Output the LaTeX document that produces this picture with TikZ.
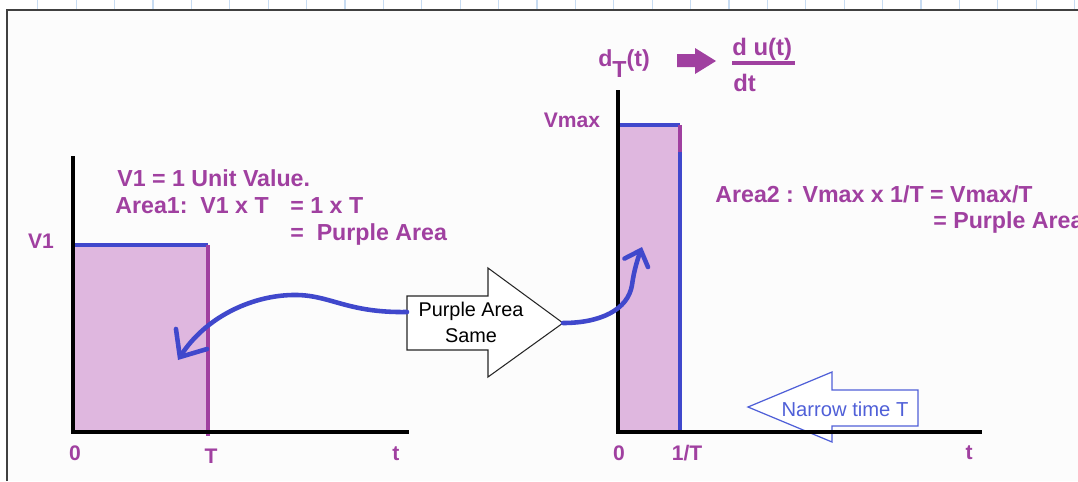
\documentclass[tikz,border=0pt]{standalone}
\usepackage{fontspec}
\setmainfont{Liberation Sans}
\usetikzlibrary{arrows.meta, positioning}
\definecolor{areapurple}{RGB}{160,64,160}
\definecolor{areafill}{RGB}{223,183,223}
\definecolor{handblue}{RGB}{64,72,204}
\definecolor{narrowblue}{RGB}{80,96,216}
\definecolor{rulerblue}{RGB}{200,220,242}

\begin{document}
\begin{tikzpicture}[
    x=0.02cm, y=-0.02cm,
    plbl/.style = {text=areapurple, font=\bfseries\fontsize{13.2}{15}\selectfont, inner sep=0pt, anchor=base west},
    axlbl/.style = {text=areapurple, font=\bfseries\fontsize{12}{14}\selectfont, inner sep=0pt, anchor=base},
    axisline/.style = {draw=black, line width=2.2pt},
    topedge/.style = {draw=handblue, line width=1.8pt},
    sideedge/.style = {draw=areapurple, line width=2.1pt},
    handarrow/.style = {draw=handblue, line width=2.6pt, line cap=round, line join=round},
    blockarrow/.style = {draw=black!85, line width=0.6pt, fill=white},
    narrowarrow/.style = {draw=narrowblue, line width=0.7pt, fill=white}
]

\useasboundingbox (0,0) rectangle (1078,481);
\clip (0,0) rectangle (1078,481);

\fill[white] (0,0) rectangle (1078,481);
\fill[black!1] (7,10) rectangle (1078,481);
\foreach \i in {1,...,28}
    \draw[rulerblue, line width=0.6pt] ({38.4*\i-0.6},0) -- ++(0,9);
\draw[black!75, line width=1.2pt] (7,481) -- (7,10) -- (1078,10);

\fill[areafill] (73,245) rectangle (208,432);
\draw[topedge] (73,245) -- (208,245);
\draw[sideedge] (208,245) -- (208,436);
\draw[axisline] (73,156) -- (73,432) -- (409,432);

\node (v1) [axlbl] at (41,248) {V1};
\node (zeroa) [axlbl] at (75,460) {0};
\node (ta) [axlbl] at (211,463) {T};
\node (taxa) [axlbl] at (396,460) {t};

\node (area1a) [plbl] at (117,186) {V1 = 1 Unit Value.};
\node (area1b) [plbl] at (115,213) {Area1:\ \ V1 x T};
\node (area1c) [plbl] at (290,213) {= 1 x T};
\node (area1d) [plbl] at (290,240) {=\ \ Purple Area};

\fill[areafill] (618,125) rectangle (680,432);
\draw[topedge] (618,125) -- (680,125);
\draw[sideedge] (680,125) -- (680,152);
\draw[topedge] (680,152) -- (680,432);

\draw[narrowarrow] (748,407) -- (832,372) -- (832,390) -- (918,390) -- (918,426) -- (832,426) -- (832,442) -- cycle;
\node (narrow) [text=narrowblue, font=\fontsize{11.5}{13}\selectfont, inner sep=0pt, anchor=base] at (845,416) {Narrow time T};

\draw[axisline] (618,90) -- (618,432) -- (982,432);

\node (vmax) [axlbl] at (572,127) {Vmax};
\node (zerob) [axlbl] at (619,460) {0};
\node (invt) [axlbl] at (687,460) {1/T};
\node (taxb) [axlbl] at (969,459) {t};

\node (dtt) [plbl, anchor=base] at (624,66) {d\raisebox{-0.48em}{T}(t)};
\fill[areapurple] (677,54) -- (695,54) -- (695,48) -- (716,61) -- (695,74) -- (695,67) -- (677,67) -- cycle;
\node (du) [plbl, font=\bfseries\fontsize{13.6}{15}\selectfont] at (732,55) {d u(t)};
\node (dt) [plbl, font=\bfseries\fontsize{13.6}{15}\selectfont] at (733,91) {dt};
\draw[areapurple, line width=2pt] (732,63) -- (795,63);

\node (area2a) [plbl] at (715,202) {Area2 : Vmax x 1/T = Vmax/T};
\node (area2b) [plbl] at (933,228) {= Purple Area};

\draw[blockarrow] (407,296) -- (488,296) -- (488,268) -- (563,323) -- (488,377) -- (488,350) -- (407,350) -- cycle;
\node (same) [font=\fontsize{11.3}{14.7}\selectfont, align=center, inner sep=0pt] at (471,322) {Purple Area\\Same};

\coordinate (samel) at (407,312);
\coordinate (samer) at (563,323);
\coordinate (leftend) at (178,360);
\coordinate (rightend) at (642,247);

\draw[handarrow, -{Straight Barb[length=0.43cm, width=0.74cm, line cap=round]}] (samel) .. controls (345,313) and (330,294) .. (292,295) .. controls (250,296) and (205,318) .. (leftend);
\draw[handarrow, -{Straight Barb[length=0.27cm, width=0.5cm, line cap=round]}] (samer) .. controls (600,323) and (628,310) .. (632,285) .. controls (634,270) and (638,258) .. (rightend);

\end{tikzpicture}
\end{document}
